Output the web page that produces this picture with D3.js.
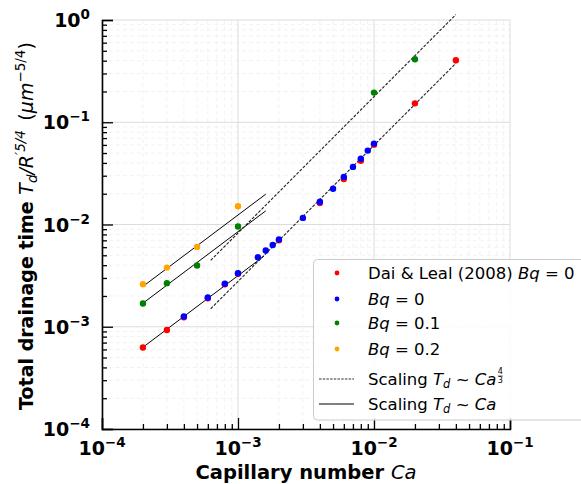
<!DOCTYPE html>
<html>
<head>
<meta charset="utf-8">
<script src="https://cdn.jsdelivr.net/npm/d3@7"></script>
<style>
  body { margin: 0; background: #fff; }
  svg { font-family: "DejaVu Sans", sans-serif; }
</style>
</head>
<body>
<div id="chart"></div>
<script>
// data
const daiCa = [2e-4, 3e-4, 4e-4, 6e-4, 8e-4, 1e-3, 2e-3, 4e-3, 6e-3, 8e-3, 1e-2, 2e-2, 4e-2];
const daiT  = [6.26e-4, 9.3e-4, 1.24e-3, 1.9e-3, 2.6e-3, 3.3e-3, 7.0e-3, 1.62e-2, 2.79e-2, 4.2e-2, 6.04e-2, 0.153, 0.404];

const bq0Ca = [4e-4, 6e-4, 8e-4, 1e-3, 1.4e-3, 1.6e-3, 1.8e-3, 2e-3, 3e-3, 4e-3, 5e-3, 6e-3, 7e-3, 8e-3, 9e-3, 1e-2];
const bq0T  = [1.26e-3, 1.93e-3, 2.63e-3, 3.34e-3, 4.78e-3, 5.56e-3, 6.3e-3, 7.13e-3, 1.16e-2, 1.67e-2, 2.24e-2, 2.92e-2, 3.66e-2, 4.4e-2, 5.28e-2, 6.18e-2];

const bq1Ca = [2e-4, 3e-4, 5e-4, 1e-3, 1e-2, 2e-2];
const bq1T  = [1.69e-3, 2.67e-3, 3.97e-3, 9.55e-3, 0.195, 0.413];

const bq2Ca = [2e-4, 3e-4, 5e-4, 1e-3];
const bq2T  = [2.61e-3, 3.79e-3, 6.04e-3, 1.51e-2];

// scaling guide lines, end points
const linearLines = [
  [[2e-4, 2.48e-3], [1.6e-3, 1.98e-2]],
  [[2e-4, 1.7e-3], [1.6e-3, 1.36e-2]],
  [[2e-4, 6.3e-4], [1.55e-3, 4.9e-3]]
];
const powerLines = [
  [[6.3e-4, 4.46e-3], [4e-2, 1.13]],
  [[6.3e-4, 1.5e-3], [4e-2, 0.377]]
];

const xMajor = [1e-4, 1e-3, 1e-2, 1e-1];
const xExp = ["\u22124", "\u22123", "\u22122", "\u22121"];
const yMajor = [1e-4, 1e-3, 1e-2, 1e-1, 1];
const yExp = ["\u22124", "\u22123", "\u22122", "\u22121", "0"];

const width = 581, height = 484;
const svg = d3.select('#chart').append('svg')
  .attr('width', width).attr('height', height);

const x = d3.scaleLog().domain([1e-4, 1e-1]).range([102, 510]);
const y = d3.scaleLog().domain([1e-4, 1]).range([429, 20]);

function minors(lo, hi) {
  let out = [];
  for (let e = lo; e < hi; e++) {
    for (let m = 2; m <= 9; m++) out.push(m * Math.pow(10, e));
  }
  return out;
}
const xMinor = minors(-4, -1);
const yMinor = minors(-4, 0);

// grid
const grid = svg.append('g');
grid.selectAll('.xmin').data(xMinor).enter().append('line')
  .attr('x1', d => x(d)).attr('x2', d => x(d)).attr('y1', 20).attr('y2', 429)
  .attr('stroke', '#f2f2f2').attr('stroke-dasharray', '4,3');
grid.selectAll('.ymin').data(yMinor).enter().append('line')
  .attr('y1', d => y(d)).attr('y2', d => y(d)).attr('x1', 102).attr('x2', 510)
  .attr('stroke', '#f2f2f2').attr('stroke-dasharray', '4,3');
grid.selectAll('.xmaj').data(xMajor).enter().append('line')
  .attr('x1', d => x(d)).attr('x2', d => x(d)).attr('y1', 20).attr('y2', 429)
  .attr('stroke', '#dcdcdc');
grid.selectAll('.ymaj').data(yMajor).enter().append('line')
  .attr('y1', d => y(d)).attr('y2', d => y(d)).attr('x1', 102).attr('x2', 510)
  .attr('stroke', '#dcdcdc');

// guide lines
const line = d3.line().x(d => x(d[0])).y(d => y(d[1]));
svg.selectAll('.lin').data(linearLines).enter().append('path')
  .attr('d', line).attr('fill', 'none').attr('stroke', '#000').attr('stroke-width', 1);
svg.selectAll('.pow').data(powerLines).enter().append('path')
  .attr('d', line).attr('fill', 'none').attr('stroke', '#222')
  .attr('stroke-width', 1.1).attr('stroke-dasharray', '3,1.5');

// points
function dots(xs, ys, color) {
  svg.append('g').selectAll('circle').data(xs).enter().append('circle')
    .attr('cx', d => x(d)).attr('cy', (d, i) => y(ys[i]))
    .attr('r', 3.2).attr('fill', color);
}
dots(daiCa, daiT, '#ff0000');
dots(bq0Ca, bq0T, '#0000ff');
dots(bq1Ca, bq1T, '#008000');
dots(bq2Ca, bq2T, '#ffa500');

// axes, ticks inward
svg.append('g').attr('transform', 'translate(0,429)')
  .call(d3.axisBottom(x).tickValues(xMajor).tickSize(-11).tickFormat(''));
svg.append('g').attr('transform', 'translate(0,429)')
  .call(d3.axisBottom(x).tickValues(xMinor).tickSize(-5).tickFormat(''))
  .select('.domain').remove();
svg.append('g').attr('transform', 'translate(102,0)')
  .call(d3.axisLeft(y).tickValues(yMajor).tickSize(-11).tickFormat(''));
svg.append('g').attr('transform', 'translate(102,0)')
  .call(d3.axisLeft(y).tickValues(yMinor).tickSize(-5).tickFormat(''))
  .select('.domain').remove();
svg.selectAll('.domain').attr('stroke-width', 1.6);
svg.selectAll('.tick line').attr('stroke-width', 1.3);

// tick labels
function powLabel(g, tx, ty, exp, anchor) {
  const t = g.append('text').attr('x', tx).attr('y', ty)
    .attr('text-anchor', anchor).attr('font-weight', 'bold').attr('font-size', 19);
  t.append('tspan').text('10');
  t.append('tspan').attr('font-size', 13.5).attr('dy', -8).text(exp);
}
xMajor.forEach((d, i) => powLabel(svg, x(d), 455, xExp[i], 'middle'));
yMajor.forEach((d, i) => powLabel(svg, 90, y(d) + 7, yExp[i], 'end'));

// axis titles
const xt = svg.append('text').attr('x', 306).attr('y', 479)
  .attr('text-anchor', 'middle').attr('font-size', 19.5);
xt.append('tspan').attr('font-weight', 'bold').text('Capillary number ');
xt.append('tspan').attr('font-style', 'italic').text('Ca');

const yt = svg.append('text').attr('transform', 'translate(33,226) rotate(-90)')
  .attr('text-anchor', 'middle').attr('font-size', 19);
yt.append('tspan').attr('font-weight', 'bold').text('Total drainage time ');
yt.append('tspan').attr('font-style', 'italic').text('T');
yt.append('tspan').attr('font-style', 'italic').attr('font-size', 13.5).attr('dy', 4).text('d');
yt.append('tspan').attr('font-style', 'italic').attr('dy', -4).text('/R');
yt.append('tspan').attr('font-style', 'italic').attr('font-size', 13.5).attr('dy', -8).text('\u20325/4');
yt.append('tspan').attr('dy', 8).text('\u2002(');
yt.append('tspan').attr('font-style', 'italic').text('\u03bcm');
yt.append('tspan').attr('font-size', 13.5).attr('dy', -8).text('\u22125/4');
yt.append('tspan').attr('dy', 8).text(')');

// legend
const lg = svg.append('g');
lg.append('rect').attr('x', 313.5).attr('y', 259.5).attr('width', 275).attr('height', 160.5)
  .attr('rx', 4).attr('fill', '#fff').attr('fill-opacity', 0.85)
  .attr('stroke', '#cccccc');
const legendPre = ['Dai & Leal (2008) ', '', '', ''];
const legendColor = ['#ff0000', '#0000ff', '#008000', '#ffa500'];
const legendY = [273, 299, 323, 349];
const legendBq = ['0', '0', '0.1', '0.2'];
legendBq.forEach((bq, i) => {
  lg.append('circle').attr('cx', 337).attr('cy', legendY[i]).attr('r', 2.4).attr('fill', legendColor[i]);
  const t = lg.append('text').attr('x', 368).attr('y', legendY[i] + 6).attr('font-size', 16.5);
  if (legendPre[i]) t.append('tspan').text(legendPre[i]);
  t.append('tspan').attr('font-style', 'italic').text('Bq');
  t.append('tspan').text(' = ' + bq);
});
lg.append('line').attr('x1', 319).attr('x2', 354).attr('y1', 379).attr('y2', 379)
  .attr('stroke', '#333').attr('stroke-dasharray', '2.5,1.2');
lg.append('line').attr('x1', 319).attr('x2', 354).attr('y1', 404).attr('y2', 404)
  .attr('stroke', '#000');

function scalingText(ty) {
  const t = lg.append('text').attr('x', 368).attr('y', ty).attr('font-size', 16.5);
  t.append('tspan').text('Scaling ');
  t.append('tspan').attr('font-style', 'italic').text('T');
  t.append('tspan').attr('font-style', 'italic').attr('font-size', 11.5).attr('dy', 3).text('d');
  t.append('tspan').attr('dy', -3).text(' ~ ');
  t.append('tspan').attr('font-style', 'italic').text('Ca');
  return t;
}
const t5 = scalingText(385);
scalingText(410);

// the 4/3 fraction after "Ca"
const bb = t5.node().getBBox();
const fx = bb.x + bb.width + 4;
lg.append('text').attr('x', fx).attr('y', 374).attr('font-size', 8).attr('text-anchor', 'middle').text('4');
lg.append('line').attr('x1', fx - 2.5).attr('x2', fx + 2.5).attr('y1', 376).attr('y2', 376)
  .attr('stroke', '#000').attr('stroke-width', 0.6);
lg.append('text').attr('x', fx).attr('y', 383).attr('font-size', 8).attr('text-anchor', 'middle').text('3');
</script>
</body>
</html>
